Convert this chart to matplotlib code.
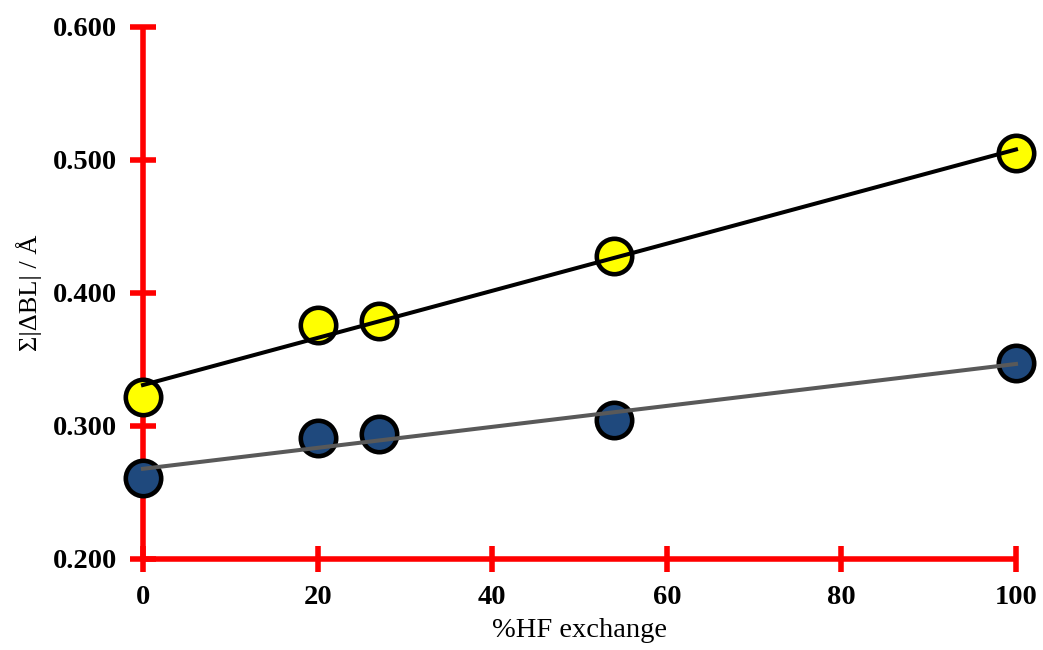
import numpy as np
import matplotlib.pyplot as plt

# data
hf_exchange = [0, 20, 27, 54, 100]
yellow_vals = [0.322, 0.376, 0.379, 0.428, 0.505]
blue_vals = [0.261, 0.291, 0.294, 0.3045, 0.347]

x_ticks = [0, 20, 40, 60, 80, 100]
y_ticks = [0.2, 0.3, 0.4, 0.5, 0.6]

fig = plt.figure(figsize=(10.43, 6.5), dpi=100)
ax = fig.add_axes([0.1371, 0.14, 0.9741 - 0.1371, 0.9585 - 0.14])

# points
ax.plot(hf_exchange, yellow_vals, 'o', ms=25.5, mfc='#FFFF00', mec='black',
        mew=3.3, clip_on=False, zorder=3)
ax.plot(hf_exchange, blue_vals, 'o', ms=25.5, mfc='#1F497D', mec='black',
        mew=3.3, clip_on=False, zorder=3)

# linear trendlines, drawn over the markers
xs = np.array([min(hf_exchange), max(hf_exchange)])
for vals, col in [(yellow_vals, 'black'), (blue_vals, '#595959')]:
    k, b = np.polyfit(hf_exchange, vals, 1)
    ax.plot(xs, k * xs + b, color=col, lw=2.9, clip_on=False, zorder=4)

ax.set_xlim(0, 100)
ax.set_ylim(0.2, 0.6)
ax.set_xticks(x_ticks)
ax.set_yticks(y_ticks)
ax.set_yticklabels(['%.3f' % v for v in y_ticks])

for s in ['top', 'right']:
    ax.spines[s].set_visible(False)
for s in ['left', 'bottom']:
    ax.spines[s].set_color('red')
    ax.spines[s].set_linewidth(4)
    ax.spines[s].set_capstyle('butt')

ax.tick_params(direction='inout', length=19, width=4, color='red', pad=9,
               labelsize=20.5)
for lab in ax.get_xticklabels() + ax.get_yticklabels():
    lab.set_fontfamily('Liberation Serif')
    lab.set_fontweight('bold')

ax.set_xlabel('%HF exchange', family='Liberation Serif', fontsize=20.5, labelpad=6)
ax.set_ylabel('Σ|ΔBL| / Å', family='Liberation Serif', fontsize=19, labelpad=8)

fig.savefig('out.png', dpi=100)
